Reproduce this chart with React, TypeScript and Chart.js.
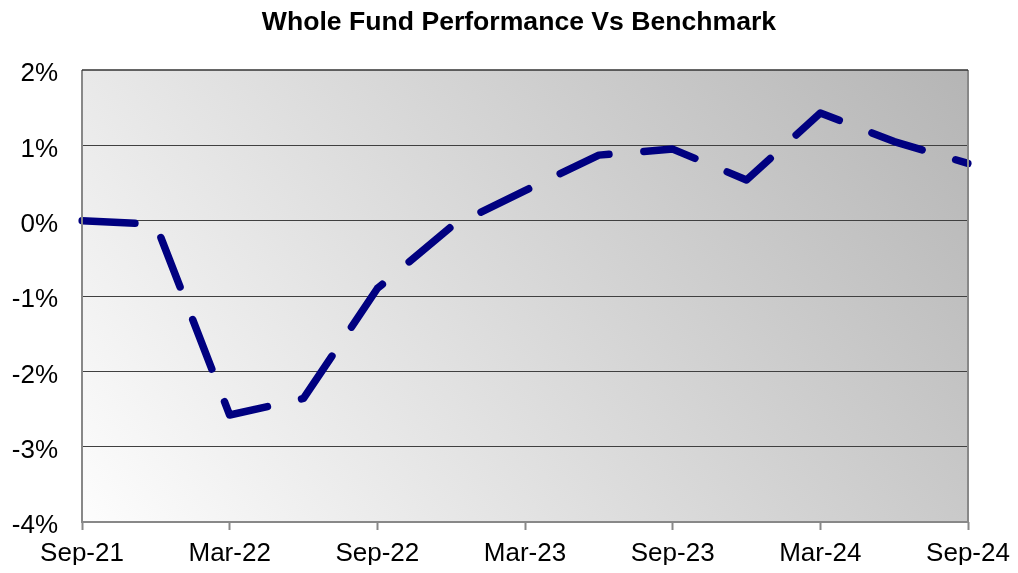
import React, { useEffect, useRef } from "react";
import { Chart, registerables } from "chart.js";

Chart.register(...registerables);

const chartTitle = "Whole Fund Performance Vs Benchmark";
const quarters = ["Sep-21", "Dec-21", "Mar-22", "Jun-22", "Sep-22", "Dec-22", "Mar-23", "Jun-23", "Sep-23", "Dec-23", "Mar-24", "Jun-24", "Sep-24"];
const relativePerformance = [0, -0.05, -2.58, -2.36, -0.9, -0.08, 0.4, 0.87, 0.95, 0.54, 1.43, 1.05, 0.76];
const yMin = -4;
const yMax = 2;

const FONT = "'Liberation Sans', Arial, sans-serif";

const backgroundPlugin = {
  id: "plotBackground",
  beforeDraw(chart: any) {
    const { ctx, chartArea } = chart;
    const { left, top, right, bottom } = chartArea;
    const W = right - left;
    const H = bottom - top;
    // value(u,v) = 232 - 51u + 20v
    const gx = -51 / W;
    const gy = 20 / H;
    const g2 = gx * gx + gy * gy;
    const x0 = right, y0 = top;
    const diff = 71;
    const x1 = x0 + (diff / g2) * gx;
    const y1 = y0 + (diff / g2) * gy;
    const grad = ctx.createLinearGradient(x0, y0, x1, y1);
    grad.addColorStop(0, "rgb(181,181,181)");
    grad.addColorStop(1, "rgb(253,253,253)");
    ctx.save();
    ctx.fillStyle = grad;
    ctx.fillRect(left, top, W, H);
    ctx.restore();
  },
  afterDraw(chart: any) {
    const { ctx, chartArea } = chart;
    const { left, top, right, bottom } = chartArea;
    ctx.save();
    ctx.strokeStyle = "#888888";
    ctx.lineWidth = 2;
    ctx.beginPath();
    ctx.moveTo(left, top);
    ctx.lineTo(left, bottom);
    ctx.lineTo(right, bottom);
    ctx.lineTo(right, top);
    ctx.stroke();
    ctx.strokeStyle = "#333333";
    ctx.lineWidth = 1.5;
    ctx.beginPath();
    ctx.moveTo(left, top);
    ctx.lineTo(right, top);
    ctx.stroke();
    ctx.fillStyle = "#000";
    ctx.font = "bold 26.6px " + FONT;
    ctx.textAlign = "center";
    ctx.textBaseline = "alphabetic";
    ctx.fillText(chartTitle, 511, 22);
    ctx.restore();
  },
};

export default function App() {
  const ref = useRef<HTMLCanvasElement | null>(null);
  useEffect(() => {
    if (!ref.current) return;
    const chart = new Chart(ref.current, {
      type: "line",
      data: {
        labels: quarters,
        datasets: [
          {
            label: "Relative performance",
            data: relativePerformance,
            borderColor: "#000080",
            borderWidth: 7.5,
            borderDash: [53, 35],
            borderCapStyle: "round",
            borderJoinStyle: "round",
            pointRadius: 0,
            tension: 0,
            fill: false,
          },
        ],
      },
      options: {
        animation: false,
        responsive: false,
        maintainAspectRatio: false,
        layout: { padding: { top: 62, right: 42, left: 0, bottom: 0 } },
        plugins: { legend: { display: false }, title: { display: false }, tooltip: { enabled: false } },
        scales: {
          x: {
            type: "category",
            offset: false,
            afterFit(scale: any) {
              scale.height = 43;
              scale.paddingLeft = 0;
              scale.paddingRight = 0;
            },
            grid: {
              drawOnChartArea: false,
              drawTicks: true,
              tickLength: 8,
              tickWidth: 2,
              tickColor: (c: any) => (c.index % 2 === 0 ? "#888888" : "rgba(0,0,0,0)"),
            },
            border: { display: false },
            ticks: {
              autoSkip: false,
              maxRotation: 0,
              padding: 8,
              color: "#000",
              font: { family: FONT, size: 26 },
              callback: (_v: any, i: number) => (i % 2 === 0 ? quarters[i] : ""),
            },
          },
          y: {
            min: yMin,
            max: yMax,
            afterFit(scale: any) {
              scale.width = 74;
              scale.paddingTop = 0;
              scale.paddingBottom = 0;
            },
            grid: {
              drawTicks: false,
              color: (c: any) => (c.tick && (c.tick.value === yMin || c.tick.value === yMax) ? "rgba(0,0,0,0)" : "#404040"),
              lineWidth: 1,
            },
            border: { display: false },
            ticks: {
              stepSize: 1,
              padding: 24,
              labelOffset: 4,
              color: "#000",
              font: { family: FONT, size: 26 },
              callback: (v: any) => `${v}%`,
            },
          },
        },
      },
      plugins: [backgroundPlugin],
    });
    return () => chart.destroy();
  }, []);
  return (
    <div style={{ width: 1002, height: 557 }}>
      <canvas ref={ref} width={1002} height={557} style={{ display: "block" }} />
    </div>
  );
}
